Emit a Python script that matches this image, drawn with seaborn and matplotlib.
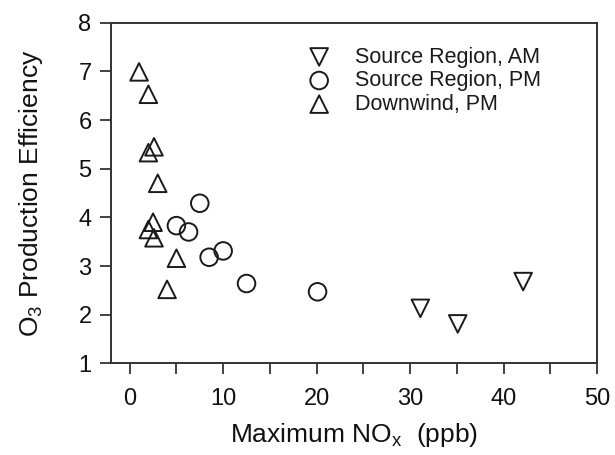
import numpy as np
import pandas as pd
import matplotlib
matplotlib.use("Agg")
import matplotlib.pyplot as plt
import seaborn as sns
from matplotlib.ticker import MultipleLocator

sns.set_style("ticks")
plt.rcParams['font.family'] = ['Liberation Sans', 'DejaVu Sans']

series_names = ["Source Region, AM", "Source Region, PM", "Downwind, PM"]

am_x = [31.1, 35.1, 42.1]
am_y = [2.13, 1.81, 2.68]

pm_x = [7.5, 5.0, 6.3, 8.5, 10.0, 12.5, 20.1]
pm_y = [4.29, 3.83, 3.70, 3.18, 3.31, 2.64, 2.47]

dw_x = [1.0, 2.0, 2.6, 2.0, 3.0, 2.5, 2.0, 2.6, 5.0, 4.0]
dw_y = [6.99, 6.53, 5.45, 5.33, 4.70, 3.90, 3.75, 3.58, 3.16, 2.52]

x_ticks = [0, 10, 20, 30, 40, 50]
y_ticks = [1, 2, 3, 4, 5, 6, 7, 8]

df = pd.DataFrame({
    "x": am_x + pm_x + dw_x,
    "y": am_y + pm_y + dw_y,
    "group": [series_names[0]] * len(am_x) + [series_names[1]] * len(pm_x) + [series_names[2]] * len(dw_x),
})

fig = plt.figure(figsize=(6.15, 4.55), dpi=100)
ax = fig.add_axes([0.1805, 0.2015, 0.7902, 0.7485])

markers = {series_names[0]: "v", series_names[1]: "o", series_names[2]: "^"}
for name in series_names:
    sub = df[df["group"] == name]
    sns.scatterplot(data=sub, x="x", y="y", marker=markers[name], s=160,
                    facecolors="none", edgecolor="#1a1a1a", linewidth=1.4,
                    label=name, ax=ax, zorder=3)

ax.set_xlim(-2, 50)
ax.set_ylim(1, 8)
ax.set_xticks(x_ticks)
ax.set_yticks(y_ticks)
ax.xaxis.set_minor_locator(MultipleLocator(5))
ax.tick_params(axis="both", which="both", direction="out", length=8, width=1.3,
               color="#333333", labelsize=17, labelcolor="#111111",
               top=False, right=False)
ax.tick_params(axis="x", which="both", pad=10)
ax.tick_params(axis="y", which="both", pad=6)
for sp in ax.spines.values():
    sp.set_visible(True)
    sp.set_linewidth(1.4)
    sp.set_color("#333333")

ax.set_xlabel(r"Maximum NO$_\mathregular{x}$  (ppb)", fontsize=19, labelpad=8, color="#111111")
ax.set_ylabel(r"O$_\mathregular{3}$ Production Efficiency", fontsize=19, labelpad=24, color="#111111")

leg = ax.legend(loc="upper left", bbox_to_anchor=(0.384, 0.93), frameon=False,
                fontsize=15.5, handletextpad=0.67, labelspacing=0.12,
                borderaxespad=0, borderpad=0, markerscale=1.0)
for t in leg.get_texts():
    t.set_color("#1a1a1a")

fig.savefig("out.png", dpi=100)
